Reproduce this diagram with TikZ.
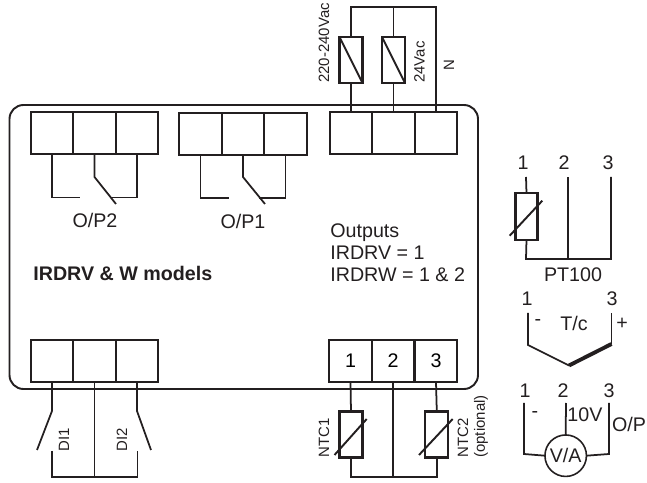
\documentclass[tikz,border=0pt]{standalone}
\usepackage{fontspec}
\setmainfont{Liberation Sans}
\definecolor{ink}{HTML}{231F20}
\tikzset{
  cell/.style={draw=ink,line width=1.2pt,rectangle,minimum width=0.85cm,minimum height=0.84cm,inner sep=0pt,outer sep=0pt},
  fuse/.style={draw=ink,line width=1.2pt,rectangle,minimum width=0.46cm,minimum height=0.92cm,inner sep=0pt,outer sep=0pt},
  wire/.style={draw=ink,line width=1pt},
  lab/.style={text=ink,inner sep=0pt,font=\fontsize{11.2}{12.5}\selectfont},
  small/.style={text=ink,inner sep=0pt,font=\fontsize{8.5}{10}\selectfont},
}
\begin{document}
\begin{tikzpicture}[x=0.02cm,y=-0.02cm]
\path[use as bounding box] (0,0) rectangle (647,483);

\draw[draw=ink,line width=1.1pt,rounded corners=0.28cm] (9.5,105) rectangle (478,389);

\node[cell] (1a) at (52,133) {};
\node[cell] (2a) at (94.5,133) {};
\node[cell] (3a) at (137,133) {};
\node[cell] (1b) at (200.5,134) {};
\node[cell] (2b) at (243,134) {};
\node[cell] (3b) at (285.5,134) {};
\node[cell] (1c) at (351,133) {};
\node[cell] (2c) at (393.5,133) {};
\node[cell] (3c) at (436,133) {};
\node[cell] (1d) at (52,361) {};
\node[cell] (2d) at (94.5,361) {};
\node[cell] (3d) at (137,361) {};
\node[cell] (1e) at (350.5,361) {\fontsize{11.2}{12.5}\selectfont 1};
\node[cell] (2e) at (393,361) {\fontsize{11.2}{12.5}\selectfont 2};
\node[cell] (3e) at (436,361) {\fontsize{11.2}{12.5}\selectfont 3};

% O/P2 relay
\draw[wire] (1a.south) -- (52,197.5) -- (80,197.5);
\draw[wire] (2a.south) -- (94.5,177) -- (116,204);
\draw[wire] (3a.south) -- (137,197.5) -- (111,197.5);
\node[lab] (op2) at (95,220) {O/P2};

% O/P1 relay
\draw[wire] (1b.south) -- (200.5,198) -- (229,198);
\draw[wire] (2b.south) -- (243,177) -- (265,204);
\draw[wire] (3b.south) -- (285.5,198) -- (259,198);
\node[lab] (op1) at (243,221) {O/P1};

% supply
\node[fuse] (fa) at (351,60) {};
\node[fuse] (fb) at (393.5,60) {};
\coordinate (topn) at (436,7);
\draw[wire] (1c.north) -- (fa.south);
\draw[wire] (2c.north) -- (fb.south);
\draw[wire] (fb.north) -- (fb.north |- topn);
\draw[wire] (fa.north) |- (topn) -- (3c.north);
\draw[wire,line width=1.1pt] (fa.north west) -- (fa.south east);
\draw[wire,line width=1.1pt] (fb.north west) -- (fb.south east);
\node[small,rotate=90,anchor=west] (vmain) at (324,83) {220-240Vac};
\node[small,rotate=90,anchor=west] (vlow) at (419.5,83) {24Vac};
\node[small,rotate=90,anchor=west] (neutral) at (449,71) {N};

\node[lab,align=left,anchor=west] (outs) at (330,253) {Outputs\\IRDRV = 1\\IRDRW = 1 \& 2};
\node[lab,anchor=west,font=\fontsize{11.2}{12.5}\selectfont\bfseries] (model) at (33,273) {IRDRV \& W models};

% digital inputs
\coordinate (dl) at (52,451);
\coordinate (dr) at (137.5,451);
\draw[wire] (1d.south) -- (52,411) -- (37,450);
\draw[wire] (3d.south) -- (137,411) -- (151,450);
\draw[wire] (dl) |- (dr |- 0,477) -- (dr);
\draw[wire] (2d.south) -- (94.5,477);
\node[small,rotate=90] (di1) at (64,439.5) {DI1};
\node[small,rotate=90] (di2) at (122,439.5) {DI2};

% NTC probes
\node[fuse] (n1) at (351,434.5) {};
\node[fuse] (n2) at (436.8,434.5) {};
\coordinate (nb) at (393,477);
\draw[wire] (1e.south) -- (n1.north);
\draw[wire] (3e.south) -- (n2.north);
\draw[wire] (n1.south) |- (nb) -| (n2.south);
\draw[wire] (2e.south) -- (nb);
\draw[wire,line width=1.1pt] (334.5,455) -- (366.7,419);
\draw[wire,line width=1.1pt] (419,455) -- (452.7,419);
\node[small,rotate=90,anchor=west] (ntc1) at (324,458) {NTC1};
\node[small,rotate=90,anchor=west] (ntc2) at (463,458) {NTC2};
\node[small,rotate=90,anchor=west] (opt) at (481,458) {(optional)};

% PT100
\node[lab] (p1) at (523,163) {1};
\node[lab] (p2) at (564,163) {2};
\node[lab] (p3) at (608,163) {3};
\node[fuse,minimum width=0.44cm,minimum height=0.94cm] (rt) at (526.5,216.5) {};
\coordinate (pa) at (526,259);
\coordinate (pb) at (568,259);
\coordinate (pc) at (611,259);
\draw[wire] (526,177) -- (rt.north);
\draw[wire] (rt.south) -- (pa) -- (pc) -- (611,177);
\draw[wire] (pb) -- (568,177);
\draw[wire,line width=1.1pt] (509.7,235.7) -- (542.3,200.7);
\node[lab] (pt) at (573,275) {PT100};

% thermocouple
\node[lab] (t1) at (527,299) {1};
\node[lab] (t3) at (612,299) {3};
\coordinate (tv) at (569,365.5);
\draw[wire] (528,313) -- (528,345) -- (tv);
\draw[wire,line width=2.2pt] (tv) -- (611.5,344);
\draw[wire] (611.5,344) -- (611.5,313);
\node[lab] (tm) at (538,323) {-};
\node[lab] (tc) at (574,323) {T/c};
\node[lab] (tp) at (622,324) {+};

% V/A output
\node[lab] (v1) at (525,391) {1};
\node[lab] (v2) at (563,391) {2};
\node[lab] (v3) at (609,391) {3};
\node[draw=ink,line width=0.9pt,circle,minimum size=0.83cm,inner sep=0pt,outer sep=0pt,lab] (va) at (565.7,455.7) {V/A};
\draw[wire] (524,403) -- (524,454) -- (va.west);
\draw[wire] (609,403) -- (609,454) -- (va.east);
\draw[wire] (va.north) -- (566,403);
\node[lab] (vm) at (535,415) {-};
\node[lab] (vt) at (585,415) {10V};
\node[lab] (vo) at (629,424) {O/P};
\end{tikzpicture}
\end{document}
